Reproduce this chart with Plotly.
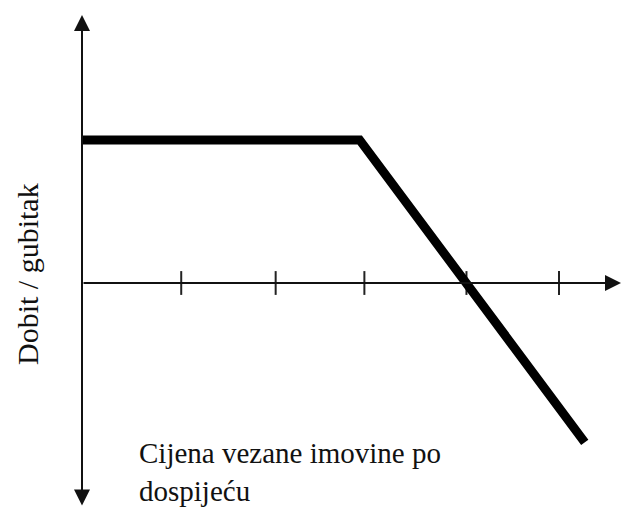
import plotly.graph_objects as go

# payoff of a short call-style position (kink at the strike)
price = [0, 2.91, 5.27]
profit = [1.5, 1.5, -1.67]

tick_pos = [1.04, 2.03, 2.96, 4.03, 5.0]

x_label = "Cijena vezane imovine po<br>dospijeću"
y_label = "Dobit / gubitak"

W, H = 624, 508
X0, Y0, UNIT = 82, 283, 95.4   # pixel origin and pixels per unit

FONT = dict(family="Liberation Serif, Times New Roman, serif", size=29, color="#111111")

fig = go.Figure()

# ticks on the horizontal axis
fig.add_trace(go.Scatter(
    x=tick_pos, y=[0] * len(tick_pos), mode="markers",
    marker=dict(symbol="line-ns", size=17, line=dict(width=2, color="#222222")),
    hoverinfo="skip",
))

# the payoff line
fig.add_trace(go.Scatter(
    x=price, y=profit, mode="lines",
    line=dict(color="black", width=9),
    hoverinfo="skip",
))

# axes with arrowheads
fig.add_annotation(
    x=0, y=(Y0 - 15) / UNIT, ax=0, ay=(Y0 - 507) / UNIT,
    xref="x", yref="y", axref="x", ayref="y",
    showarrow=True, arrowhead=2, arrowsize=1.6, arrowwidth=2,
    arrowside="end+start", startarrowhead=2, startarrowsize=1.6,
    arrowcolor="#111111", text="",
)
fig.add_annotation(
    x=(621 - X0) / UNIT, y=0, ax=0, ay=0,
    xref="x", yref="y", axref="x", ayref="y",
    showarrow=True, arrowhead=2, arrowsize=1.6, arrowwidth=2,
    arrowcolor="#111111", text="",
)

# labels
fig.add_annotation(
    x=137 / W, y=1 - 435 / H, xref="paper", yref="paper",
    xanchor="left", yanchor="top", align="left",
    text=x_label, showarrow=False, font=FONT,
)
fig.add_annotation(
    x=27 / W, y=1 - 274 / H, xref="paper", yref="paper",
    xanchor="center", yanchor="middle", textangle=-90,
    text=y_label, showarrow=False, font=dict(FONT, size=30),
)

fig.update_layout(
    width=W, height=H,
    margin=dict(l=0, r=0, t=0, b=0),
    paper_bgcolor="white", plot_bgcolor="white",
    showlegend=False,
    xaxis=dict(range=[-X0 / UNIT, (W - X0) / UNIT], visible=False, fixedrange=True),
    yaxis=dict(range=[(Y0 - H) / UNIT, Y0 / UNIT], visible=False, fixedrange=True),
)

fig.write_html("out.html", config={"displayModeBar": False},
               post_script="document.body.style.margin = '0';")
